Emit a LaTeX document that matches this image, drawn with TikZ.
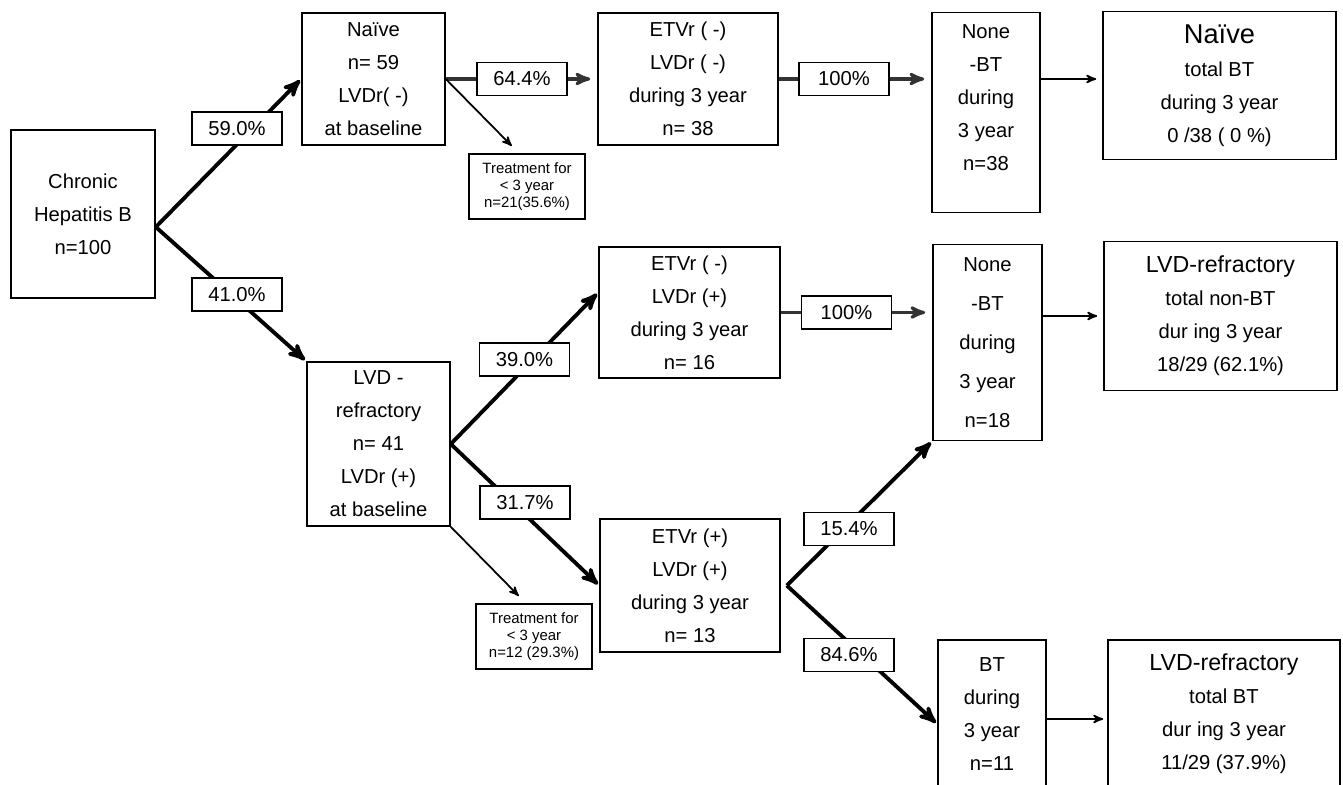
\documentclass[tikz,border=0pt]{standalone}
\usepackage{fontspec}
\setmainfont{Liberation Sans}
\usetikzlibrary{arrows,positioning,backgrounds}

\begin{document}
\begin{tikzpicture}[shorten >=1pt, on grid, >=stealth',
                box/.style={draw, line width=0.9pt, align=center, inner sep=1pt, font=\fontsize{11.5}{18.8}\selectfont},
                pct/.style={draw, fill=white, line width=0.9pt, minimum width=1.8cm, minimum height=0.66cm, inner sep=1pt, font=\fontsize{11.5}{13}\selectfont},
                note/.style={draw, line width=0.9pt, align=center, minimum width=2.32cm, minimum height=1.3cm, inner sep=1pt, font=\fontsize{8.5}{9.8}\selectfont},
                bigarr/.style={->, line width=2.2pt},
                midarr/.style={->, line width=1.8pt, black!80, shorten >=0.14cm},
                thinarr/.style={->, line width=1pt}]
                \useasboundingbox (0,0) rectangle (26.86,-15.7);
                % first column
                \node[box, minimum width=2.88cm, minimum height=3.36cm] (chb) at (1.66,-4.28) {Chronic\\Hepatitis B\\n=100};
                \node[box, minimum width=2.86cm, minimum height=2.64cm, above right=2.7cm and 5.81cm of chb] (nv) {Naïve\\n= 59\\LVDr( -)\\at baseline};
                \node[box, minimum width=2.86cm, minimum height=3.28cm, below right=4.6cm and 5.91cm of chb] (lvd) {LVD -\\refractory\\n= 41\\LVDr (+)\\at baseline};
                \node[pct, above right=1.71cm and 3.08cm of chb] (p1) {59.0\%};
                \node[pct, below right=1.61cm and 3.08cm of chb] (p2) {41.0\%};
                % naive branch
                \node[pct, right=2.97cm of nv] (p3) {64.4\%};
                \node[note, below right=2.15cm and 3.07cm of nv] (t1) {Treatment for\\< 3 year\\ n=21(35.6\%)};
                \node[box, minimum width=3.6cm, minimum height=2.64cm, right=6.29cm of nv] (e1) {ETVr ( -)\\LVDr ( -)\\during 3 year\\n= 38};
                \node[pct, right=3.12cm of e1] (p4) {100\%};
                \node[box, minimum width=2.16cm, minimum height=4cm, below right=0.67cm and 5.96cm of e1] (nb1) {None\\-BT\\during\\3 year\\n=38\\[-7pt]\strut};
                \node[box, minimum width=4.66cm, minimum height=2.96cm, above right=0.54cm and 4.67cm of nb1] (r1) {{\fontsize{15.5}{18.8}\selectfont Naïve}\\total BT\\during 3 year\\0 /38 ( 0 \%)};
                % refractory branch
                \node[pct, above right=1.69cm and 2.92cm of lvd] (p5) {39.0\%};
                \node[pct, below right=1.17cm and 2.93cm of lvd] (p6) {31.7\%};
                \node[note, below right=3.85cm and 3.11cm of lvd] (t2) {Treatment for\\< 3 year\\n=12 (29.3\%)};
                \node[box, minimum width=3.62cm, minimum height=2.62cm, above right=2.63cm and 6.22cm of lvd] (e2) {ETVr ( -)\\LVDr (+)\\during 3 year\\n= 16};
                \node[box, minimum width=3.6cm, minimum height=2.66cm, below right=2.83cm and 6.23cm of lvd] (e3) {ETVr (+)\\LVDr (+)\\during 3 year\\n= 13};
                \node[pct, right=3.14cm of e2] (p7) {100\%};
                \node[box, minimum width=2.18cm, minimum height=3.92cm, below right=0.6cm and 5.96cm of e2, font=\fontsize{11.5}{22.1}\selectfont] (nb2) {None\\-BT\\during\\3 year\\n=18};
                \node[box, minimum width=4.66cm, minimum height=2.98cm, above right=0.53cm and 4.66cm of nb2] (r2) {{\fontsize{13.2}{18.8}\selectfont LVD-refractory}\\total non-BT\\dur ing 3 year\\18/29 (62.1\%)};
                \node[pct, above right=1.13cm and 3.18cm of e3] (p8) {15.4\%};
                \node[pct, below right=1.39cm and 3.18cm of e3] (p9) {84.6\%};
                \node[box, minimum width=2.16cm, minimum height=2.96cm, below right=2.57cm and 6.04cm of e3] (bt) {BT\\during\\3 year\\n=11};
                \node[box, minimum width=4.64cm, minimum height=2.96cm, right=4.64cm of bt] (r3) {{\fontsize{13.2}{18.8}\selectfont LVD-refractory}\\total BT\\dur ing 3 year\\11/29 (37.9\%)};

                \begin{scope}[on background layer]
                \coordinate (f0) at ([yshift=-0.26cm]chb.east);
                \coordinate (f3) at ([xshift=0.12cm]e3.east);
                \draw[bigarr] (f0) -- (nv.west);
                \draw[bigarr] (f0) -- (lvd.north west);
                \draw[midarr] (nv.east) -- (e1.west);
                \draw[thinarr] (nv.east) -- ([xshift=-0.28cm,yshift=0.12cm]t1.north);
                \draw[midarr] (e1.east) -- (e1.east -| nb1.west);
                \draw[thinarr, shorten >=0.12cm] (e1.east -| nb1.east) -- (e1.east -| r1.west);
                \draw[bigarr] (lvd.east) -- ([yshift=0.4cm]e2.west);
                \draw[bigarr] (lvd.east) -- (e3.west);
                \draw[thinarr] (lvd.south east) -- ([xshift=-0.28cm,yshift=0.12cm]t2.north);
                \draw[midarr] (e2.east) -- (e2.east -| nb2.west);
                \draw[thinarr, shorten >=0.12cm] (r2.west -| nb2.east) -- (r2.west);
                \draw[bigarr] (f3) -- (nb2.south west);
                \draw[bigarr] (f3) -- ([yshift=-0.2cm]bt.west);
                \draw[thinarr, shorten >=0.08cm] ([yshift=-0.1cm]bt.east) -- ([yshift=-0.1cm]bt.east -| r3.west);
                \end{scope}
            \end{tikzpicture}
\end{document}
